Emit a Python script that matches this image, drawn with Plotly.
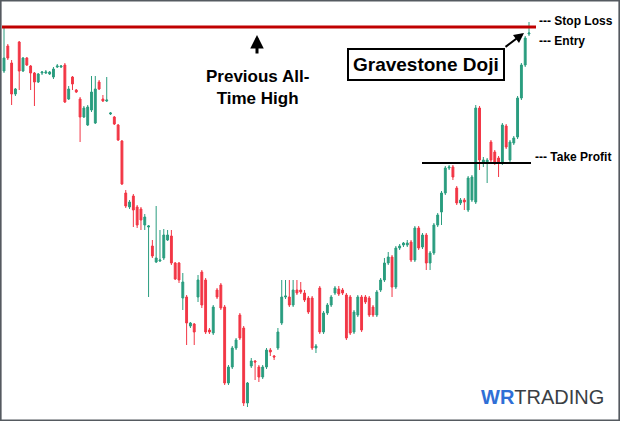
import plotly.graph_objects as go

opens  = [349,374,357,326,378,349,362,354,347,338,347,347,346,343,353,353,355,321,343,330,321,303,295,310,297,338,321,319,306,303,295,279,227,213,224,213,211,195,193,174,158,159,162,180,184,157,157,122,123,94,96,123,148,140,90,87,130,135,113,37,53,72,105,92,17,54,59,53,43,53,70,64,72,97,123,123,115,130,130,127,122,
          122,72,132,88,107,115,127,131,130,125,123,88,105,123,123,122,113,105,130,140,157,163,133,172,175,175,178,160,192,173,185,157,167,195,208,227,252,253,232,217,220,210,220,218,312,258,258,278,268,262,257,294,260,277,283,322,355,386]
closes = [362,362,326,331,349,362,355,347,338,346,348,348,348,351,354,354,318,331,336,328,303,312,313,328,331,331,319,320,307,296,280,236,214,218,210,195,200,203,194,164,162,160,185,185,157,141,140,138,97,97,88,140,115,88,88,113,123,112,37,53,72,80,82,17,37,59,58,43,53,70,68,63,88,123,124,115,130,127,128,120,108,
          72,74,88,107,115,123,132,126,127,82,87,108,123,90,118,105,105,128,140,157,163,133,172,174,177,177,160,192,172,185,157,167,195,205,227,252,253,243,217,220,218,242,243,312,260,260,260,260,257,257,295,273,278,282,322,355,382,387]
highs  = [392,376,360,332,379,363,363,355,348,347,349,350,349,353,356,355,357,334,344,331,323,314,315,344,344,340,325,343,308,304,296,280,230,220,226,215,213,206,195,180,214,190,191,190,190,158,158,147,125,98,97,145,150,142,92,115,132,137,115,55,74,82,107,94,38,62,60,55,55,72,72,65,92,140,140,140,140,140,138,130,124,
          124,76,134,109,117,125,134,134,132,127,125,110,125,125,125,124,115,130,142,162,168,165,174,176,178,180,180,194,194,187,187,169,197,207,229,254,255,255,234,222,222,244,245,315,314,263,262,280,270,264,297,296,280,284,324,357,384,398]
lows   = [347,360,315,324,330,348,354,330,314,337,345,346,345,341,352,352,317,320,330,327,278,302,294,308,296,330,318,318,305,295,279,235,212,211,193,192,190,190,123,162,157,158,160,179,155,140,137,110,75,92,75,118,112,86,86,85,121,110,35,35,51,70,80,14,13,52,40,38,41,51,64,60,70,95,121,113,113,125,126,118,106,
          70,67,86,86,105,113,125,124,125,80,85,86,103,88,116,103,103,103,128,138,155,123,131,170,173,173,158,158,170,171,150,150,165,193,195,225,250,240,215,215,210,208,218,216,250,253,237,257,255,243,255,271,258,275,281,320,353,384]

n = len(opens)
xs = list(range(n))
GREEN, RED = "#2a9d7f", "#f23645"

fig = go.Figure(go.Candlestick(
    x=xs, open=opens, high=highs, low=lows, close=closes,
    increasing=dict(line=dict(color=GREEN, width=1), fillcolor=GREEN),
    decreasing=dict(line=dict(color=RED, width=1), fillcolor=RED),
    whiskerwidth=0, showlegend=False, hoverinfo="skip"))

W, H = 620, 421
scale = (n - 1) / (529 - 4)
r0 = -4 * scale
r1 = r0 + W * scale

def px(x): return x / W
def py(y): return 1 - y / H

shapes = [
    dict(type="rect", xref="paper", yref="paper", x0=0.001, x1=0.999, y0=0.001, y1=0.999,
         line=dict(color="#555a60", width=2), fillcolor="rgba(0,0,0,0)"),
    dict(type="line", xref="paper", yref="paper", x0=px(2), x1=px(536), y0=py(27), y1=py(27),
         line=dict(color="#c00000", width=3)),
    dict(type="line", xref="paper", yref="paper", x0=px(422), x1=px(531), y0=py(163), y1=py(163),
         line=dict(color="black", width=2)),
]

def lab(x, y, text, size, xa="center", **kw):
    d = dict(x=px(x), y=py(y), xref="paper", yref="paper", text=text, showarrow=False,
             xanchor=xa, yanchor="middle", font=dict(family="Liberation Sans", size=size, color="black"))
    d.update(kw)
    return d

anns = [
    dict(x=px(257), y=py(35), ax=0, ay=20, xref="paper", yref="paper",
         text="", showarrow=True, arrowhead=2, arrowsize=0.9, arrowwidth=3, arrowcolor="black"),
    lab(257, 87, "<b>Previous All-<br>Time High</b>", 17, align="center"),
    lab(426, 64, "<b>Gravestone Doji</b>", 19, bordercolor="black", borderwidth=2, borderpad=4, bgcolor="white"),
    dict(x=px(524), y=py(33), ax=-20, ay=15, xref="paper", yref="paper",
         text="", showarrow=True, arrowhead=2, arrowsize=1, arrowwidth=2, arrowcolor="black"),
    lab(537, 21, "<b>--- Stop Loss</b>", 12, "left"),
    lab(537, 41, "<b>--- Entry</b>", 12, "left"),
    lab(533, 157, "<b>--- Take Profit</b>", 12, "left"),
    lab(606, 397, "<b><span style='color:#2f6fd6'>WR</span></b><span style='color:#3a3f45'>TRADING</span>", 20, "right"),
]

fig.update_layout(
    width=W, height=H, margin=dict(l=0, r=0, t=0, b=0),
    paper_bgcolor="white", plot_bgcolor="white",
    xaxis=dict(range=[r0, r1], visible=False, rangeslider=dict(visible=False), fixedrange=True),
    yaxis=dict(range=[-1, 420], visible=False, fixedrange=True),
    shapes=shapes, annotations=anns)

html = fig.to_html(full_html=True, include_plotlyjs=True, config={"displayModeBar": False})
html = html.replace("<head>", "<head><style>html,body{margin:0;padding:0;overflow:hidden;}</style>", 1)
with open("out.html", "w", encoding="utf-8") as f:
    f.write(html)
